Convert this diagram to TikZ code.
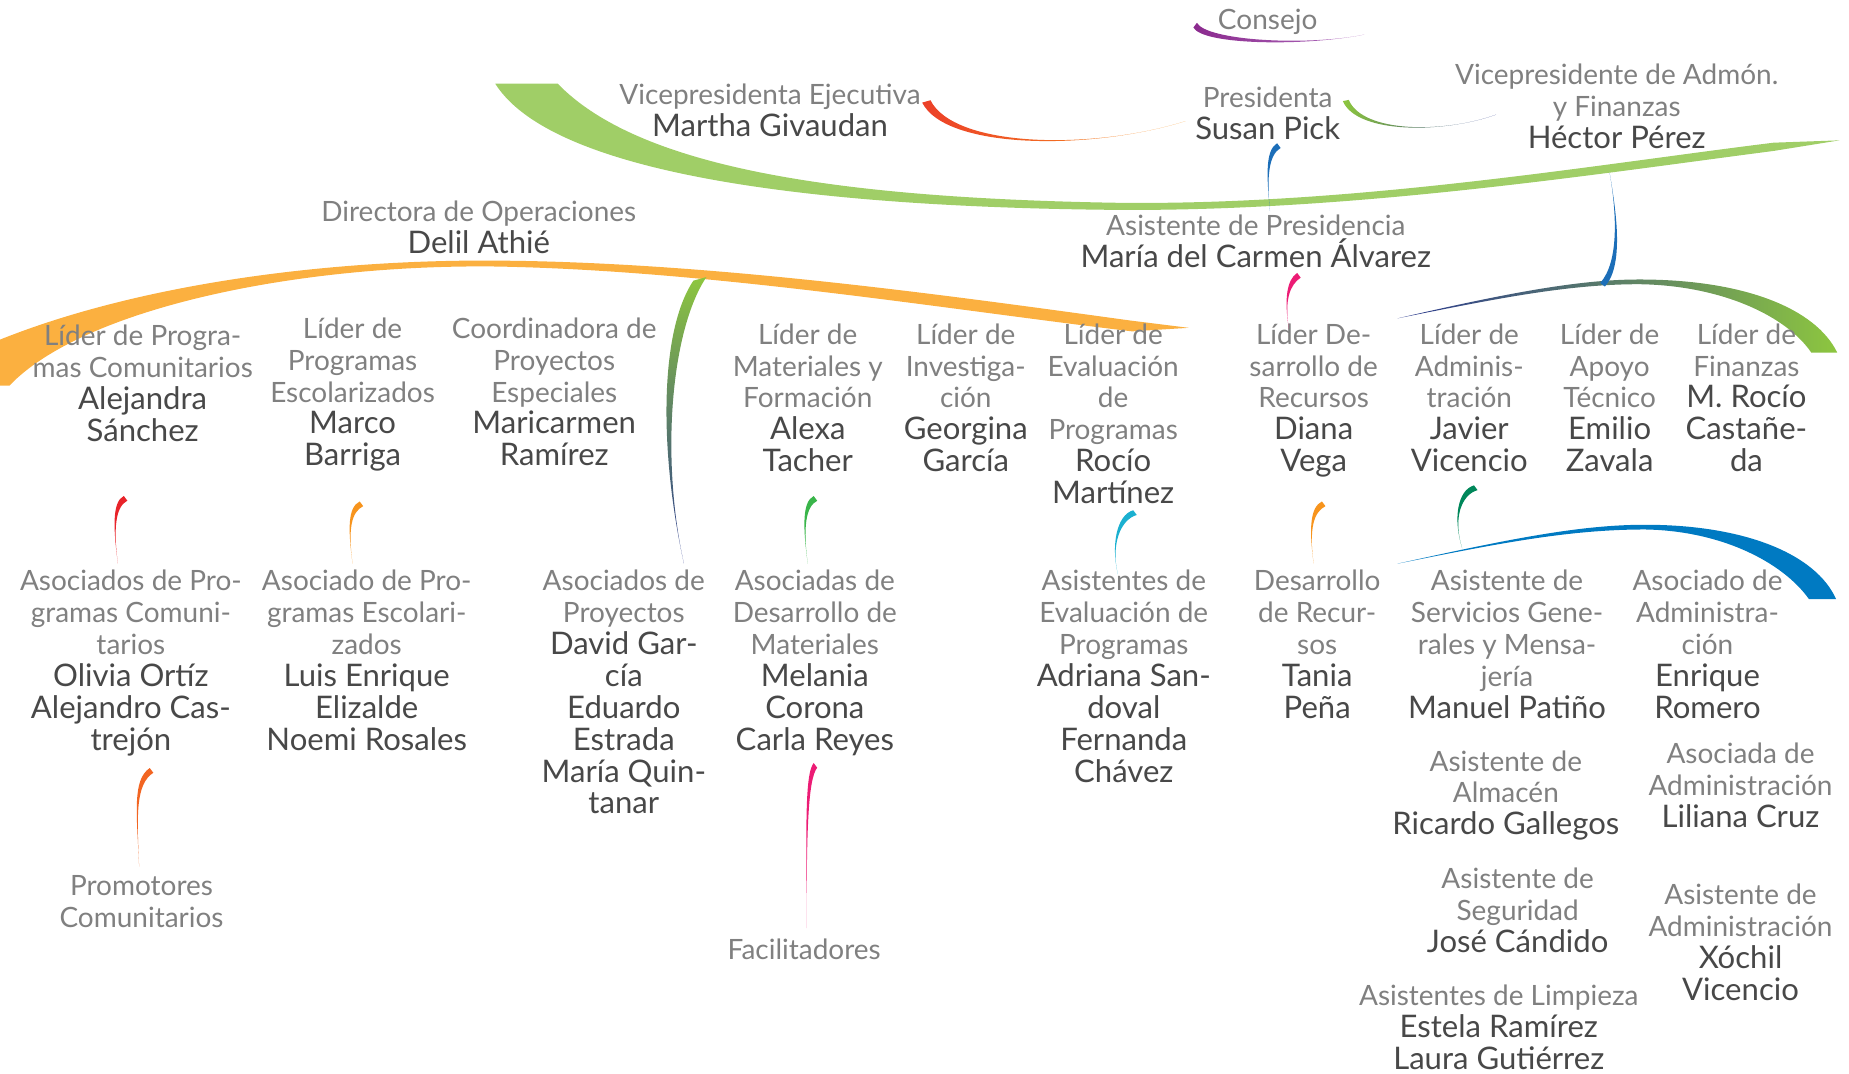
\documentclass[tikz,border=0pt]{standalone}
\usepackage{fontspec}
\setmainfont{Lato}
\usetikzlibrary{calc}
\definecolor{rolegray}{RGB}{128,128,128}
\definecolor{namegray}{RGB}{72,72,72}
\definecolor{brgreen}{RGB}{160,206,103}
\definecolor{brorange}{RGB}{251,176,64}
\definecolor{brblue}{RGB}{0,122,194}
\definecolor{brnavy}{RGB}{43,57,144}
\definecolor{lgreen}{RGB}{141,198,63}
\definecolor{twred}{RGB}{232,35,42}
\definecolor{tworange}{RGB}{247,148,29}
\definecolor{twgreen}{RGB}{57,181,74}
\definecolor{twcyan}{RGB}{27,176,208}
\definecolor{twteal}{RGB}{0,135,90}
\definecolor{twvermil}{RGB}{242,101,34}
\definecolor{twpink}{RGB}{236,28,117}
\definecolor{twblue}{RGB}{28,110,184}
\definecolor{twpurple}{RGB}{139,42,142}
\definecolor{twlilac}{RGB}{175,110,190}
\definecolor{twscarlet}{RGB}{236,64,40}
\newcommand\nm[1]{{\color{namegray}\fontsize{15}{15.4}\selectfont #1}}
% tapered connector: style, from (thick), to (thin), out control, in control, width
\newcommand\twig[6]{\path[#1] (#2) .. controls +#4 and +#5 .. (#3) .. controls +#5 and +#4 .. ([shift={#6}]#2) -- cycle;}
\begin{document}
\begin{tikzpicture}[x=0.2mm, y=-0.2mm,
	role/.style={font=\fontsize{13.5}{15.4}\selectfont, text=rolegray, align=center, anchor=north, inner sep=0pt}]
	\useasboundingbox (0,0) rectangle (1568,910);
	% main branches
	\fill[brgreen] (420,71) -- (473,71) .. controls (540,140) and (700,168) .. (950,172) .. controls (1150,174) and (1350,140) .. (1504,121) -- (1560,119) -- (1504,128) .. controls (1350,148) and (1150,179) .. (950,178) .. controls (700,176) and (470,150) .. (420,71) -- cycle;
	\fill[brorange] (0,288) .. controls (120,240) and (280,220) .. (420,221) .. controls (600,222) and (800,250) .. (960,272) -- (1008,278) -- (960,281) .. controls (800,262) and (600,229) .. (420,226) .. controls (250,224) and (70,262) .. (8,327) -- (0,327) -- cycle;
	\shade[left color=brnavy, right color=lgreen] (1185,270) .. controls (1280,248) and (1340,237) .. (1390,237) .. controls (1480,237) and (1540,262) .. (1558,299) -- (1536,299) .. controls (1515,268) and (1460,242) .. (1390,241) .. controls (1330,241) and (1270,253) .. (1185,270) -- cycle;
	\fill[brblue] (1185,478) .. controls (1280,457) and (1340,445) .. (1395,445) .. controls (1480,445) and (1540,470) .. (1557,508) -- (1534,508) .. controls (1512,477) and (1460,450) .. (1395,449) .. controls (1330,449) and (1270,461) .. (1185,478) -- cycle;

	% top
	\node[role] (consejo) at (1075,7) {Consejo};
	\node[role] (pres) at (1075,73) {Presidenta\\\nm{Susan Pick}};
	\node[role] (vpe) at (653,71) {Vicepresidenta Ejecutiva\\\nm{Martha Givaudan}};
	\node[role] (vpaf) at (1371,54) {Vicepresidente de Admón.\\y Finanzas\\\nm{Héctor Pérez}};
	\node[role] (asp) at (1065,182) {Asistente de Presidencia\\\nm{María del Carmen Álvarez}};
	\node[role] (dop) at (406,170) {Directora de Operaciones\\\nm{Delil Athié}};
	% leaders
	\node[role] (lpc) at (121,275) {Líder de Progra-\\mas Comunitarios\\\nm{Alejandra}\\\nm{Sánchez}};
	\node[role] (lpe) at (299,269) {Líder de\\Programas\\Escolarizados\\\nm{Marco}\\\nm{Barriga}};
	\node[role] (cpe) at (470,269) {Coordinadora de\\Proyectos\\Especiales\\\nm{Maricarmen}\\\nm{Ramírez}};
	\node[role] (lmf) at (685,274) {Líder de\\Materiales y\\Formación\\\nm{Alexa}\\\nm{Tacher}};
	\node[role] (lin) at (819,274) {Líder de\\Investiga-\\ción\\\nm{Georgina}\\\nm{García}};
	\node[role] (lep) at (944,274) {Líder de\\Evaluación\\de\\Programas\\\nm{Rocío}\\\nm{Martínez}};
	\node[role] (ldr) at (1114,274) {Líder De-\\sarrollo de\\Recursos\\\nm{Diana}\\\nm{Vega}};
	\node[role] (lad) at (1246,274) {Líder de\\Adminis-\\tración\\\nm{Javier}\\\nm{Vicencio}};
	\node[role] (lat) at (1365,274) {Líder de\\Apoyo\\Técnico\\\nm{Emilio}\\\nm{Zavala}};
	\node[role] (lfi) at (1481,274) {Líder de\\Finanzas\\\nm{M. Rocío}\\\nm{Castañe-}\\\nm{da}};
	% associates
	\node[role] (apc) at (111,483) {Asociados de Pro-\\gramas Comuni-\\tarios\\\nm{Olivia Ortíz}\\\nm{Alejandro Cas-}\\\nm{trejón}};
	\node[role] (ape) at (311,483) {Asociado de Pro-\\gramas Escolari-\\zados\\\nm{Luis Enrique}\\\nm{Elizalde}\\\nm{Noemi Rosales}};
	\node[role] (apr) at (529,483) {Asociados de\\Proyectos\\\nm{David Gar-}\\\nm{cía}\\\nm{Eduardo}\\\nm{Estrada}\\\nm{María Quin-}\\\nm{tanar}};
	\node[role] (adm) at (691,483) {Asociadas de\\Desarrollo de\\Materiales\\\nm{Melania}\\\nm{Corona}\\\nm{Carla Reyes}};
	\node[role] (aep) at (953,483) {Asistentes de\\Evaluación de\\Programas\\\nm{Adriana San-}\\\nm{doval}\\\nm{Fernanda}\\\nm{Chávez}};
	\node[role] (drc) at (1117,483) {Desarrollo\\de Recur-\\sos\\\nm{Tania}\\\nm{Peña}};
	\node[role] (asg) at (1278,483) {Asistente de\\Servicios Gene-\\rales y Mensa-\\jería\\\nm{Manuel Patiño}};
	\node[role] (aad) at (1448,483) {Asociado de\\Administra-\\ción\\\nm{Enrique}\\\nm{Romero}};
	\node[role] (aal) at (1277,636) {Asistente de\\Almacén\\\nm{Ricardo Gallegos}};
	\node[role] (alc) at (1476,630) {Asociada de\\Administración\\\nm{Liliana Cruz}};
	\node[role] (ase) at (1287,736) {Asistente de\\Seguridad\\\nm{José Cándido}};
	\node[role] (axv) at (1476,749) {Asistente de\\Administración\\\nm{Xóchil}\\\nm{Vicencio}};
	\node[role] (ali) at (1271,835) {Asistentes de Limpieza\\\nm{Estela Ramírez}\\\nm{Laura Gutiérrez}};
	\node[role] (prc) at (120,742) {Promotores\\Comunitarios};
	\node[role] (fac) at (682,796) {Facilitadores};

	% connector ends
	\coordinate (lpc-out) at ($(lpc.south)+(-16,46)$);
	\coordinate (apc-in) at ($(apc.north)+(-11,-5)$);
	\coordinate (lpe-out) at ($(lpe.south)+(6,25)$);
	\coordinate (ape-in) at ($(ape.north)+(-12,-5)$);
	\coordinate (lmf-out) at ($(lmf.south)+(5,20)$);
	\coordinate (adm-in) at ($(adm.north)+(-6,-5)$);
	\coordinate (lep-out) at ($(lep.south)+(17,5)$);
	\coordinate (aep-in) at ($(aep.north)+(-5,4)$);
	\coordinate (ldr-out) at ($(ldr.south)+(7,20)$);
	\coordinate (drc-in) at ($(drc.north)+(-3,-5)$);
	\coordinate (lad-out) at ($(lad.south)+(4,11)$);
	\coordinate (asg-in) at ($(asg.north)+(-38,-18)$);
	\coordinate (apc-out) at ($(apc.south)+(16,10)$);
	\coordinate (prc-in) at ($(prc.north)+(-2,-7)$);
	\coordinate (adm-out) at ($(adm.south)+(-1,6)$);
	\coordinate (fac-in) at ($(fac.north)+(2,-9)$);
	\coordinate (pres-out) at ($(pres.south)+(8,3)$);
	\coordinate (asp-in) at ($(asp.north)+(12,-3)$);
	\coordinate (asp-out) at ($(asp.south)+(35,4)$);
	\coordinate (ldr-in) at ($(ldr.north)+(-21,5)$);
	\coordinate (vpaf-out) at ($(vpaf.south)+(-6,20)$);
	\coordinate (lat-in) at ($(lat.north)+(-8,-34)$);
	\coordinate (consejo-l) at ($(consejo.south)+(-63,-6)$);
	\coordinate (consejo-r) at ($(consejo.south)+(82,0)$);
	\coordinate (vpe-out) at ($(vpe.north east)+(1,16)$);
	\coordinate (pres-w) at ($(pres.west)+(-8,7)$);
	\coordinate (pres-e) at ($(pres.east)+(2,-10)$);
	\coordinate (vpaf-w) at ($(vpaf.west)+(35,7)$);
	\coordinate (dop-in) at (588,238);
	\coordinate (apr-in) at ($(apr.north)+(51,-5)$);

	% connectors
	\twig{left color=twpurple,right color=twlilac}{consejo-l}{consejo-r}{(8,15)}{(-50,10)}{(3,-4)}
	\twig{left color=twscarlet,right color=tworange}{vpe-out}{pres-w}{(20,40)}{(-80,25)}{(7,-2)}
	\twig{left color=lgreen,right color=brnavy}{pres-e}{vpaf-w}{(12,28)}{(-45,16)}{(5,-1)}
	\twig{fill=twblue}{pres-out}{asp-in}{(-10,6)}{(-3,-30)}{(3,4)}
	\twig{fill=twpink}{asp-out}{ldr-in}{(-9,6)}{(-4,-25)}{(3,4)}
	\twig{fill=twblue}{lat-in}{vpaf-out}{(16,-18)}{(6,35)}{(4,3)}
	\twig{top color=lgreen,bottom color=brnavy}{dop-in}{apr-in}{(-30,45)}{(-20,-90)}{(11,-3)}
	\twig{fill=twred}{lpc-out}{apc-in}{(-10,5)}{(-4,-30)}{(3,4)}
	\twig{fill=tworange}{lpe-out}{ape-in}{(-10,5)}{(-4,-30)}{(3,4)}
	\twig{fill=twgreen}{lmf-out}{adm-in}{(-10,5)}{(-4,-30)}{(3,4)}
	\twig{fill=twcyan}{lep-out}{aep-in}{(-14,4)}{(-6,-25)}{(3,4)}
	\twig{fill=tworange}{ldr-out}{drc-in}{(-10,5)}{(-4,-30)}{(3,4)}
	\twig{fill=twteal}{lad-out}{asg-in}{(-14,4)}{(-8,-25)}{(3,4)}
	\twig{fill=twvermil}{apc-out}{prc-in}{(-15,10)}{(-2,-45)}{(3,4)}
	\twig{fill=twpink}{adm-out}{fac-in}{(-8,10)}{(0,-80)}{(3,4)}
\end{tikzpicture}
\end{document}
